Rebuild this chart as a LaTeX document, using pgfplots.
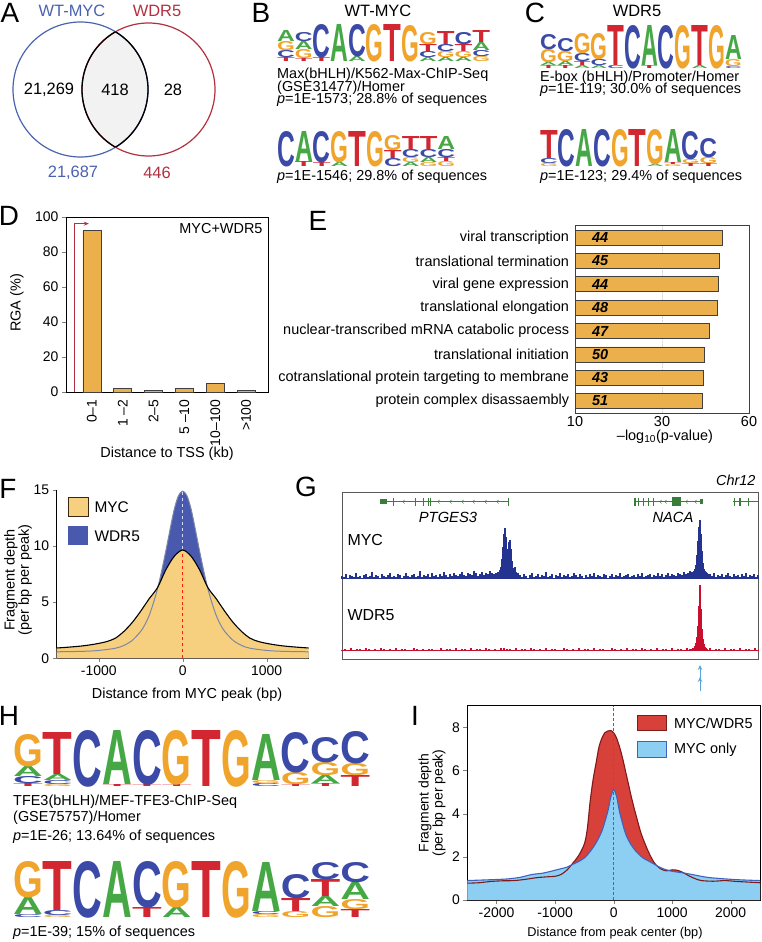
\documentclass[border=0pt]{standalone}
\usepackage{fontspec}
\setmainfont{Liberation Sans}
\usepackage{graphicx}
\usepackage{pgfplots}
\usepackage{pgfplotstable}
\pgfplotsset{compat=1.18}
\usetikzlibrary{arrows.meta}

\definecolor{vblue}{HTML}{4A62AE}
\definecolor{vred}{HTML}{B2303F}
\definecolor{barO}{HTML}{EBB04B}
\definecolor{myel}{HTML}{F6D07E}
\definecolor{wblue}{HTML}{4959AE}
\definecolor{wline}{HTML}{7A88A8}
\definecolor{tblue}{HTML}{24338F}
\definecolor{tred}{HTML}{C8102E}
\definecolor{ggreen}{HTML}{3A7D3A}
\definecolor{ired}{HTML}{D8413A}
\definecolor{idred}{HTML}{7E1A1A}
\definecolor{iblue}{HTML}{8DCFF3}
\definecolor{iline}{HTML}{3D63C0}
\definecolor{arrowb}{HTML}{5AA6DC}
\definecolor{cA}{HTML}{45A845}
\definecolor{cC}{HTML}{3A4AA6}
\definecolor{cG}{HTML}{F0A42C}
\definecolor{cT}{HTML}{D22630}

\newcommand\fs[1]{\fontsize{#1}{#1}\selectfont}

% one logo column: x, bottom y, width, letters bottom-up as L/height
\newcommand\col[4]{%
  \xdef\cury{#2}%
  \foreach \L/\h in {#4}{%
    \node[inner sep=0pt,anchor=south west] at (#1,\cury)
      {\resizebox{#3bp}{\h bp}{\color{c\L}\bfseries\L}};%
    \pgfmathparse{\cury-\h}\xdef\cury{\pgfmathresult}%
  }}

% panel F profiles
\pgfplotstableread{
x y
-1500 0.92
-1400 0.97
-1300 1.03
-1200 1.1
-1100 1.2
-1000 1.33
-900 1.5
-800 1.8
-700 2.4
-600 3.2
-500 4.2
-400 5.3
-300 6.3
-200 7.9
-100 9.1
0 9.65
100 9.1
200 7.9
300 6.3
400 5.3
500 4.2
600 3.2
700 2.4
800 1.8
900 1.5
1000 1.33
1100 1.2
1200 1.1
1300 1.03
1400 0.97
1500 0.92
}\fmyc

\pgfplotstableread{
x y
-1500 0.58
-1200 0.62
-1000 0.7
-800 0.9
-700 1.15
-600 1.6
-500 2.4
-450 3.0
-400 3.8
-350 4.9
-300 6.2
-250 7.8
-200 9.6
-150 11.5
-100 13.3
-50 14.5
0 14.9
50 14.5
100 13.3
150 11.5
200 9.6
250 7.8
300 6.2
350 4.9
400 3.8
450 3.0
500 2.4
600 1.6
700 1.15
800 0.9
1000 0.7
1200 0.62
1500 0.58
}\fwdr

% panel I profiles
\pgfplotstableread{
x y
-2500 0.78
-2300 0.8
-2100 0.86
-1900 0.89
-1700 0.9
-1500 0.96
-1300 1.04
-1100 1.08
-1000 1.1
-900 1.18
-800 1.38
-700 1.7
-600 2.05
-500 2.6
-450 3.3
-400 4.6
-350 5.6
-300 6.35
-250 7.1
-200 7.5
-150 7.75
-100 7.83
-50 7.85
0 7.75
50 7.5
100 7.1
150 6.6
200 6.0
250 5.4
300 4.8
350 4.25
400 3.75
450 3.25
500 2.85
600 2.2
700 1.7
800 1.45
900 1.35
1000 1.4
1100 1.37
1200 1.25
1300 1.1
1400 0.98
1500 0.9
1700 0.87
1900 0.9
2100 0.86
2300 0.83
2500 0.8
}\imw

\pgfplotstableread{
x y
-2500 0.9
-2200 0.93
-2000 0.95
-1800 0.98
-1600 1.05
-1400 1.18
-1200 1.25
-1000 1.38
-900 1.45
-800 1.52
-700 1.65
-600 1.78
-500 1.95
-400 2.25
-300 2.65
-200 3.2
-100 4.1
-50 4.75
0 5.1
50 4.8
100 4.1
200 3.1
300 2.55
400 2.2
500 1.95
600 1.8
700 1.65
800 1.5
900 1.4
1000 1.33
1200 1.25
1400 1.15
1600 1.05
1800 1.0
2000 0.96
2200 0.93
2500 0.9
}\imo

\begin{document}
\begin{tikzpicture}[x=1bp,y=1bp]

% plain drawings use pixel rows counted downward
\begin{scope}[y=-1bp]
% ---------- panel letters
\foreach \t/\px/\py in {A/10/13,B/261/13,C/535/13,D/9/216,E/318/221,F/8/489,G/306/487,H/9/716,I/415/716}
  \node[font=\fs{28}] at (\px,\py) {\t};

% ---------- A: Venn
\begin{scope}
  \clip (80.5,89.5) circle (67.5);
  \fill[black!5] (148.5,89.5) circle (66.5);
\end{scope}
\draw[vblue,line width=1.2bp] (80.5,89.5) circle (67.5);
\draw[vred,line width=1.2bp] (148.5,89.5) circle (66.5);
\begin{scope}
  \clip (80.5,89.5) circle (67.5);
  \draw[black,line width=1.3bp] (148.5,89.5) circle (66.5);
\end{scope}
\begin{scope}
  \clip (148.5,89.5) circle (66.5);
  \draw[black,line width=1.3bp] (80.5,89.5) circle (67.5);
\end{scope}
\node[font=\fs{16.5},vblue] at (72,11) {WT-MYC};
\node[font=\fs{16.5},vred] at (157,11) {WDR5};
\node[font=\fs{16.5}] at (49,90) {21,269};
\node[font=\fs{16.5}] at (115,90) {418};
\node[font=\fs{16.5}] at (173,90) {28};
\node[font=\fs{16.5},vblue] at (73,173) {21,687};
\node[font=\fs{16.5},vred] at (157,173) {446};

% ---------- B: WT-MYC motifs
\node[font=\fs{16.5}] at (378,11) {WT-MYC};
\col{277}{62}{17.75}{T/4,C/7,G/9,A/11}
\col{294.75}{62}{17.75}{T/3,G/9,A/8,C/9}
\col{312.5}{62}{17.75}{T/4,C/33}
\col{330.25}{62}{17.75}{A/37}
\col{348}{62}{17.75}{A/5,C/32}
\col{365.75}{62}{17.75}{G/37}
\col{383.5}{62}{17.75}{T/37}
\col{401.25}{62}{17.75}{G/36}
\col{419}{62}{17.75}{A/4,C/6,T/7,G/12}
\col{436.75}{62}{17.75}{A/4,G/6,C/7,T/13}
\col{454.5}{62}{17.75}{A/4,G/6,T/7,C/12}
\col{472.25}{62}{17.75}{G/5,C/6,A/8,T/12}
\node[font=\fs{14.5},anchor=west,inner sep=0pt] at (277,75) {Max(bHLH)/K562-Max-ChIP-Seq};
\node[font=\fs{14.5},anchor=west,inner sep=0pt] at (277,88) {(GSE31477)/Homer};
\node[font=\fs{14.5},anchor=west,inner sep=0pt] at (277,100) {\textit{p}=1E-1573; 28.8\% of sequences};
\col{277}{167}{17.8}{C/35}
\col{294.8}{167}{17.8}{T/5,A/30}
\col{312.6}{167}{17.8}{T/4,C/31}
\col{330.4}{167}{17.8}{A/4,G/31}
\col{348.2}{167}{17.8}{T/35}
\col{366}{167}{17.8}{G/35}
\col{383.8}{167}{17.8}{C/8,T/8,G/15}
\col{401.6}{167}{17.8}{A/4,G/5,C/8,T/13}
\col{419.4}{167}{17.8}{G/4,A/5,C/8,T/13}
\col{437.2}{167}{17.8}{G/5,T/4,C/8,A/13}
\node[font=\fs{14.5},anchor=west,inner sep=0pt] at (277,177) {\textit{p}=1E-1546; 29.8\% of sequences};

% ---------- C: WDR5 motifs
\node[font=\fs{16.5}] at (637,11) {WDR5};
\col{540}{69}{16.8}{T/3,A/3,G/13,C/15}
\col{556.8}{69}{16.8}{T/3,A/4,G/10,C/13}
\col{573.6}{69}{16.8}{A/3,T/4,C/8,G/20}
\col{590.4}{69}{16.8}{A/3,C/6,G/26}
\col{607.2}{69}{16.8}{C/3,T/40}
\col{624}{69}{16.8}{C/43}
\col{640.8}{69}{16.8}{T/3,A/40}
\col{657.6}{69}{16.8}{C/43}
\col{674.4}{69}{16.8}{G/43}
\col{691.2}{69}{16.8}{A/3,T/40}
\col{708}{69}{16.8}{G/43}
\col{724.8}{69}{16.8}{C/2,G/7,A/24}
\node[font=\fs{14.5},anchor=west,inner sep=0pt] at (540,78) {E-box (bHLH)/Promoter/Homer};
\node[font=\fs{14.5},anchor=west,inner sep=0pt] at (540,90) {\textit{p}=1E-119; 30.0\% of sequences};
\col{540}{167}{17.7}{G/3,C/5,T/28}
\col{557.7}{167}{17.7}{C/37}
\col{575.4}{167}{17.7}{A/37}
\col{593.1}{167}{17.7}{C/37}
\col{610.8}{167}{17.7}{G/37}
\col{628.5}{167}{17.7}{T/37}
\col{646.2}{167}{17.7}{A/2,G/35}
\col{663.9}{167}{17.7}{G/2,T/2,A/33}
\col{681.6}{167}{17.7}{T/3,G/4,C/28}
\col{699.3}{167}{17.7}{T/3,G/6,C/19}
\node[font=\fs{14.5},anchor=west,inner sep=0pt] at (540,177) {\textit{p}=1E-123; 29.4\% of sequences};

% ---------- D texts
\node[font=\fs{14.5},anchor=east] at (266,229) {MYC+WDR5};
\node[font=\fs{14.5},rotate=90] at (17,303) {RGA (\%)};
\node[font=\fs{14.5}] at (167,454) {Distance to TSS (kb)};

% ---------- E texts
\node[font=\fs{14.5}] at (665,437) {–log\textsubscript{10}(p-value)};

% ---------- F legend and labels
\draw[fill=myel,draw=black!70!brown,line width=0.8bp] (68,497) rectangle (88,516);
\fill[wblue] (68,526) rectangle (88,545);
\node[font=\fs{15.5},anchor=west] at (91,507) {MYC};
\node[font=\fs{15.5},anchor=west] at (91,536) {WDR5};
\node[font=\fontsize{14.5}{12}\selectfont,rotate=90,align=center] at (18,580) {Fragment depth\\(per bp per peak)};
\node[font=\fs{14.5}] at (187,695) {Distance from MYC peak (bp)};

% ---------- G: genome tracks frame and genes
\draw[black!65,line width=0.9bp] (342,492) rectangle (758,659);
\node[font=\itshape\fs{14.5},anchor=east] at (759,480) {Chr12};
\begin{scope}[ggreen]
  \draw[line width=0.6bp] (380,501.7) -- (508.3,501.7);
  \fill (380,499) rectangle (386.7,504.4);
  \foreach \x in {393.3,415,423.3,428.3,430.8,508.3}
    \draw[line width=1bp] (\x,497.7) -- (\x,505.7);
  \foreach \x in {403,438,450,462,473,485,497}
    \draw[line width=0.5bp] (\x+1.5,499.9) -- (\x,501.7) -- (\x+1.5,503.5);
  \draw[line width=0.6bp] (635,501.7) -- (701.7,501.7);
  \foreach \x in {635,638.3,643.3,648.3,653.3}
    \draw[line width=1.2bp] (\x,497.7) -- (\x,505.7);
  \fill (671.7,497) rectangle (680.7,506.4);
  \fill (700,499.3) rectangle (703.3,504.1);
  \foreach \x in {660,665,686,695}
    \draw[line width=0.5bp] (\x+1.5,499.9) -- (\x,501.7) -- (\x+1.5,503.5);
  \draw[line width=0.6bp] (733.3,501.7) -- (758,501.7);
  \foreach \x in {734.7,740,748.3}
    \draw[line width=1.1bp] (\x,497.7) -- (\x,505.7);
\end{scope}
\node[font=\itshape\fs{14.8}] at (448,517) {PTGES3};
\node[font=\itshape\fs{14.8}] at (673,517) {NACA};
\node[font=\fs{16},anchor=west] at (344,540) {MYC};
\node[font=\fs{16},anchor=west] at (344,615) {WDR5};
\draw[tblue,line width=1.6bp] (342,578.6) -- (758,578.6);
\draw[tred,line width=1bp] (342,650.4) -- (758,650.4);
\draw[arrowb,line width=1bp,-{Stealth[length=5bp,width=4.5bp]}] (700,691) -- (700,665);
\draw[arrowb,line width=1bp,-{Stealth[length=5bp,width=4.5bp]}] (700,691) -- (700,677);

% ---------- H: TFE3 motifs
\col{13}{787}{29.75}{T/3,C/7,A/10,G/32}
\col{42.75}{787}{29.75}{G/2,C/4,A/6,T/42}
\col{72.5}{787}{29.75}{C/56}
\col{102.25}{787}{29.75}{T/2,A/54}
\col{132}{787}{29.75}{T/2,C/54}
\col{161.75}{787}{29.75}{T/2,G/54}
\col{191.5}{787}{29.75}{T/56}
\col{221.25}{787}{29.75}{G/56}
\col{251}{787}{29.75}{C/3,G/3,A/46}
\col{280.75}{787}{29.75}{T/2,G/12,C/40}
\col{310.5}{787}{29.75}{T/3,A/8,G/13,C/25}
\col{340.25}{787}{29.75}{T/11,G/12,C/32}
\node[font=\fs{14.5},anchor=west,inner sep=0pt] at (13,802) {TFE3(bHLH)/MEF-TFE3-ChIP-Seq};
\node[font=\fs{14.5},anchor=west,inner sep=0pt] at (13,818) {(GSE75757)/Homer};
\node[font=\fs{14.5},anchor=west,inner sep=0pt] at (13,837) {\textit{p}=1E-26; 13.64\% of sequences};
\col{13}{918}{29.75}{C/3,A/17,G/36}
\col{42.75}{918}{29.75}{G/2,C/5,T/49}
\col{72.5}{918}{29.75}{C/56}
\col{102.25}{918}{29.75}{A/56}
\col{132}{918}{29.75}{T/10,C/46}
\col{161.75}{918}{29.75}{A/10,G/46}
\col{191.5}{918}{29.75}{T/56}
\col{221.25}{918}{29.75}{G/56}
\col{251}{918}{29.75}{G/3,C/3,A/49}
\col{280.75}{918}{29.75}{G/6,T/13,C/24}
\col{310.5}{918}{29.75}{G/11,A/10,T/17,C/17}
\col{340.25}{918}{29.75}{T/8,G/10,A/17,C/20}
\node[font=\fs{14.5},anchor=west,inner sep=0pt] at (13,933) {\textit{p}=1E-39; 15\% of sequences};

% ---------- I legend and labels
\draw[fill=ired,draw=idred,line width=0.9bp] (637.3,715) rectangle (666.7,730.7);
\draw[fill=iblue,draw=iline,line width=0.9bp] (637.3,741.7) rectangle (666.7,757.3);
\node[font=\fs{14.5},anchor=west] at (670.5,723) {MYC/WDR5};
\node[font=\fs{14.5},anchor=west] at (670.5,750) {MYC only};
\node[font=\fontsize{14}{12.5}\selectfont,rotate=90,align=center] at (432,803) {Fragment depth\\(per bp per peak)};
\node[font=\fs{12.8}] at (615,933) {Distance from peak center (bp)};
\end{scope}

% ---------- D: distance to TSS
\begin{axis}[at={(66bp,-392bp)},anchor=south west,scale only axis,width=202bp,height=175bp,
  xmin=-0.84,xmax=5.71,ymin=0,ymax=100,
  ytick={0,20,...,100},xtick={0,...,5},
  xticklabels={0–1,1 –2,2–5,5 –10,10–100,>100},
  xticklabel style={rotate=90,anchor=east,font=\fs{14}},
  yticklabel style={font=\fs{14}},
  /pgf/number format/assume math mode=true,
  xtick style={draw=none},ytick pos=left,tick align=outside,major tick length=4bp,
  axis line style={line width=0.9bp}]
\addplot[ybar,bar width=0.585,fill=barO,draw=black!75,line width=0.7bp]
  coordinates {(0,92.2)(1,2)(2,1)(3,2)(4,5.1)(5,1)};
\draw[vred,line width=0.9bp,-{Stealth[length=5bp,width=4bp]}]
  (axis cs:-0.55,0) -- (axis cs:-0.55,96.2) -- (axis cs:-0.1,96.2);
\end{axis}

% ---------- E: GO terms (x measured from the axis' left end, which is labelled 10)
\begin{axis}[at={(575bp,-413bp)},anchor=south west,scale only axis,width=174bp,height=188bp,
  xbar,bar width=0.64,xmin=0,xmax=50,ymin=0.46,ymax=8.51,y dir=reverse,
  ytick={1,...,8},
  yticklabels={viral transcription,translational termination,viral gene expression,translational elongation,nuclear-transcribed mRNA catabolic process,translational initiation,cotranslational protein targeting to membrane,protein complex disassaembly},
  xtick={0,25,50},xticklabels={10,30,60},
  ytick style={draw=none},xtick style={draw=none},
  xmajorgrids,grid style={gray!30,densely dotted},
  tick label style={font=\fs{14.5}},
  yticklabel style={inner xsep=1.5bp},
  axis line style={black!75,line width=0.9bp}]
\addplot[fill=barO,draw=black!75,line width=0.7bp]
  coordinates {(42.4,1)(41.5,2)(41.2,3)(41.0,4)(38.6,5)(37.2,6)(36.9,7)(36.6,8)};
\node[font=\bfseries\itshape\fs{14.5}] at (axis cs:7.2,1) {44};
\node[font=\bfseries\itshape\fs{14.5}] at (axis cs:7.2,2) {45};
\node[font=\bfseries\itshape\fs{14.5}] at (axis cs:7.2,3) {44};
\node[font=\bfseries\itshape\fs{14.5}] at (axis cs:7.2,4) {48};
\node[font=\bfseries\itshape\fs{14.5}] at (axis cs:7.2,5) {47};
\node[font=\bfseries\itshape\fs{14.5}] at (axis cs:7.2,6) {50};
\node[font=\bfseries\itshape\fs{14.5}] at (axis cs:7.2,7) {43};
\node[font=\bfseries\itshape\fs{14.5}] at (axis cs:7.2,8) {51};
\end{axis}

% ---------- F: MYC vs WDR5 profile
\begin{axis}[at={(56.7bp,-658.3bp)},anchor=south west,scale only axis,width=252bp,height=168.3bp,
  xmin=-1500,xmax=1500,ymin=0,ymax=15,axis lines=left,axis line style={-,line width=0.9bp},
  xtick={-1000,0,1000},xticklabels={-1000,0,1000},ytick={0,5,10,15},
  tick align=outside,major tick length=4bp,tick label style={font=\fs{14}},
  /pgf/number format/assume math mode=true]
\addplot[fill=wblue,draw=none,smooth] table {\fwdr} \closedcycle;
\addplot[fill=myel,draw=none,smooth] table {\fmyc} \closedcycle;
\addplot[wline,line width=1bp,smooth] table {\fwdr};
\addplot[black,line width=1.1bp,smooth] table {\fmyc};
\draw[dashed,red!75!orange,line width=0.9bp] (axis cs:0,0) -- (axis cs:0,9.55);
\draw[dashed,white!85!blue,line width=0.9bp] (axis cs:0,9.75) -- (axis cs:0,14.8);
\end{axis}

% ---------- G: tracks
\begin{axis}[at={(342bp,-579bp)},anchor=south west,scale only axis,width=416bp,height=60bp,
  hide axis,xmin=0,xmax=416,ymin=0,ymax=60,clip=false]
\addplot[ycomb,tblue,line width=2bp] coordinates {
(0,3)(2,2)(4,5)(6,1)(8,4)(10,3)(12,2)(14,6)(16,2)(18,3)(20,1)(22,4)(24,5)(26,2)(28,3)(30,7)(32,2)(34,4)(36,3)(38,1)(40,5)(42,3)(44,2)(46,4)(48,6)(50,2)(52,3)(54,2)(56,5)(58,4)(60,1)(62,3)(64,6)(66,3)(68,2)(70,4)(72,5)(74,2)(76,3)(78,8)(80,2)(82,4)(84,3)(86,5)(88,2)(90,6)(92,3)(94,4)(96,2)(98,5)(100,3)(102,7)(104,4)(106,2)(108,5)(110,3)(112,6)(114,4)(116,3)(118,5)(120,7)(122,4)(124,3)(126,6)(128,5)(130,4)(132,8)(134,6)(136,3)(138,5)(140,7)(142,4)(144,6)(146,5)(148,8)(150,6)
(152,5)(154,6)(156,7)(158,9)(159,12)(160,20)(161,32)(162,45)(163,51)(164,42)(165,28)(166,30)(167,37)(168,39)(169,30)(170,18)(171,11)(172,8)(173,12)(174,7)(175,5)(176,6)
(178,4)(180,2)(182,5)(184,3)(186,1)(188,4)(190,6)(192,2)(194,3)(196,5)(198,2)(200,4)(202,3)(204,7)(206,2)(208,3)(210,5)(212,1)(214,4)(216,3)(218,6)(220,2)(222,4)(224,3)(226,5)(228,2)(230,3)(232,6)(234,4)(236,2)(238,5)(240,3)(242,1)(244,4)(246,2)(248,5)(250,3)(252,6)(254,2)(256,4)(258,3)(260,2)(262,5)(264,4)(266,1)(268,3)(270,5)(272,2)(274,4)(276,3)(278,6)(280,2)(282,3)(284,4)(286,5)(288,2)(290,3)(292,4)(294,2)(296,5)(298,3)(300,6)(302,2)(304,3)(306,4)(308,5)(310,2)(312,4)(314,3)(316,6)(318,3)(320,5)(322,2)(324,4)(326,6)(328,3)(330,5)(332,4)(334,3)(336,6)(338,5)(340,4)(342,7)(344,5)(346,6)(348,8)(350,7)
(352,8)(353,10)(354,14)(355,24)(356,38)(357,52)(358,59)(359,45)(360,28)(361,16)(362,10)(363,8)(364,7)(365,6)(366,5)
(368,5)(370,3)(372,6)(374,2)(376,4)(378,3)(380,5)(382,2)(384,4)(386,6)(388,3)(390,2)(392,5)(394,3)(396,4)(398,2)(400,5)(402,3)(404,6)(406,2)(408,4)(410,3)(412,5)(414,2)(416,4)};
\end{axis}

\begin{axis}[at={(342bp,-650.7bp)},anchor=south west,scale only axis,width=416bp,height=66bp,
  hide axis,xmin=0,xmax=416,ymin=0,ymax=66,clip=false]
\addplot[ycomb,tred,line width=1.8bp] coordinates {
(0,1)(3,2)(6,1)(9,2.5)(12,1)(15,1.5)(18,2)(21,1)(24,2.5)(27,1.5)(30,1)(33,2)(36,1)(39,3)(42,1.5)(45,1)(48,2)(51,1)(54,2.5)(57,1)(60,1.5)(63,2)(66,1)(69,1)(72,2.5)(75,1.5)(78,1)(81,2)(84,1)(87,1.5)(90,2)(93,1)(96,1)(99,2.5)(102,1)(105,1.5)(108,2)(111,1)(114,3)(117,1)(120,1.5)(123,2)(126,1)(129,2.5)(132,1)(135,1.5)(138,2)(141,1)(144,3)(147,1.5)(150,1)(153,2)(156,1)(159,2.5)(162,3)(165,1.5)(168,2)(171,1)(174,2.5)(177,1)(180,1.5)(183,2)(186,1)(189,3)(192,1.5)(195,1)(198,2)(201,1)(204,2.5)(207,1)(210,1.5)(213,2)(216,1)(219,1)(222,2.5)(225,1.5)(228,1)(231,2)(234,1)(237,3)(240,1)(243,1.5)(246,2)(249,1)(252,2.5)(255,1)(258,1.5)(261,2)(264,1)(267,1)(270,2.5)(273,1.5)(276,1)(279,2)(282,1)(285,2.5)(288,1)(291,1.5)(294,2)(297,1)(300,2.5)(303,1.5)(306,1)(309,2)(312,1)(315,3)(318,1)(321,1.5)(324,2)(327,1)(330,2.5)(333,1)(336,1.5)(339,2)(342,1)(345,2.5)(348,2)
(350,2)(351,2.5)(352,3)(353,5)(354,8)(355,14)(356,25)(357,45)(358,66)(359,42)(360,22)(361,12)(362,7)(363,4)(364,3)(365,2)
(368,2.5)(371,1)(374,2)(377,1.5)(380,1)(383,2.5)(386,1)(389,2)(392,1.5)(395,1)(398,2.5)(401,1)(404,2)(407,1.5)(410,1)(413,2.5)(416,1)};
\end{axis}

% ---------- I: MYC/WDR5 vs MYC only
\begin{axis}[at={(467.3bp,-900bp)},anchor=south west,scale only axis,width=292.7bp,height=194.3bp,
  xmin=-2500,xmax=2500,ymin=0,ymax=9,
  xtick={-2000,-1000,0,1000,2000},xticklabels={-2000,-1000,0,1000,2000},
  ytick={0,2,4,6,8},tick align=outside,xtick pos=bottom,ytick pos=left,major tick length=4bp,
  tick label style={font=\fs{14}},/pgf/number format/assume math mode=true,
  axis line style={line width=0.9bp}]
\addplot[fill=ired,draw=none,smooth] table {\imw} \closedcycle;
\addplot[fill=iblue,draw=none,smooth] table {\imo} \closedcycle;
\addplot[idred,line width=1.1bp,smooth] table {\imw};
\addplot[iline,line width=1.1bp,smooth] table {\imo};
\draw[densely dashed,black!60,line width=0.8bp] (axis cs:0,0) -- (axis cs:0,9);
\end{axis}

\pgfresetboundingbox
\path[use as bounding box] (0,0) rectangle (762bp,-942bp);
\end{tikzpicture}
\end{document}
